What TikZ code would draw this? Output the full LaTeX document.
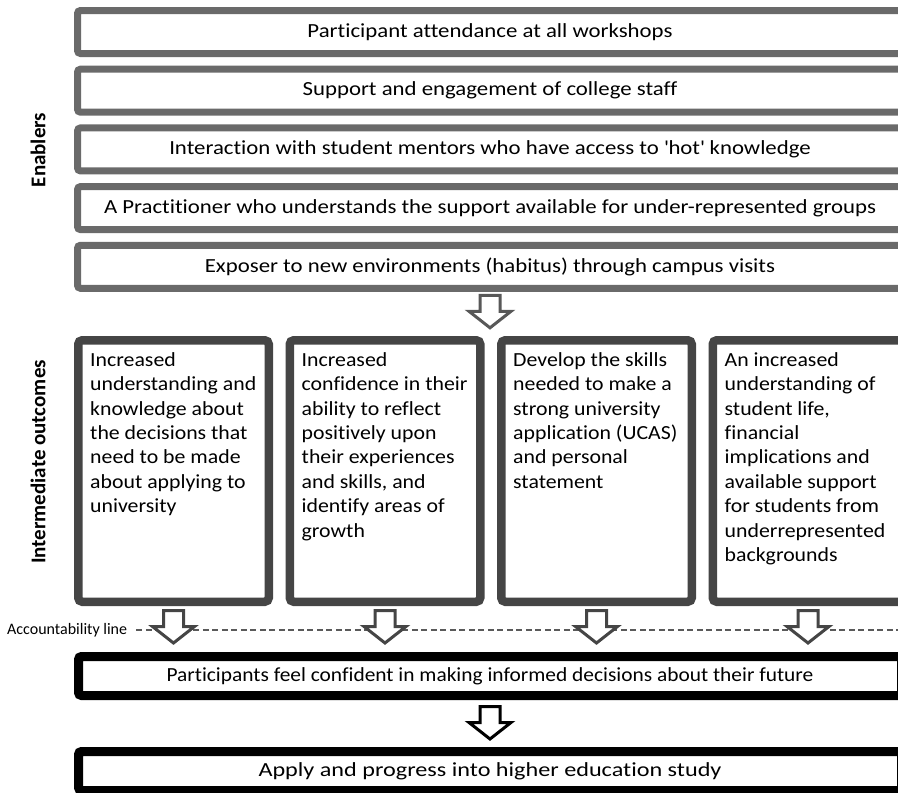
\documentclass[tikz,border=0pt]{standalone}
\usepackage{fontspec}
\setmainfont{Carlito}[Ligatures=NoCommon, FakeStretch=1.14]
\newfontfamily\plainfont{Carlito}[Ligatures=NoCommon]
\newfontfamily\boxfont{Carlito}[Ligatures=NoCommon, FakeStretch=1.09]
\newfontfamily\goalfont{Carlito}[Ligatures=NoCommon, FakeStretch=1.07]
\newfontfamily\applyfont{Carlito}[Ligatures=NoCommon, FakeStretch=1.21]
\usetikzlibrary{positioning,calc}

\definecolor{engrey}{HTML}{6A6A6A}
\definecolor{outgrey}{HTML}{454545}
\definecolor{argrey}{HTML}{585858}
\definecolor{dashgrey}{HTML}{5A5A5A}

\tikzset{
  enabler/.style={draw=engrey, line width=7pt, rounded corners=3pt,
    minimum width=825pt, minimum height=43pt, inner sep=0pt,
    font=\fontsize{20}{24.4}\selectfont},
  outcome/.style={draw=outgrey, line width=8.5pt, rounded corners=4pt,
    minimum width=190.5pt, minimum height=261.5pt, inner sep=0pt},
  outtext/.style={anchor=north west, inner sep=0pt, align=left,
    font=\boxfont\fontsize{20}{24.4}\selectfont},
  goal/.style={draw=black, line width=9pt, rounded corners=3pt,
    minimum width=823pt, minimum height=39pt, inner sep=0pt},
  side/.style={rotate=90, font=\plainfont\bfseries\fontsize{#1}{24}\selectfont},
  pics/downarrow/.style={code={
    \draw[line width=3pt, fill=white, draw=#1] (-10,1.5) -- (10,1.5) -- (10,17.5)
      -- (21,17.5) -- (0,34) -- (-21,17.5) -- (-10,17.5) -- cycle;}}
}

\begin{document}
\begin{tikzpicture}[x=1pt, y=-1pt]
\useasboundingbox (0,0) rectangle (898,793);
\clip (0,0) rectangle (898,793);

% enablers
\foreach \txt [count=\i] in {{Participant attendance at all workshops},
    {Support and engagement of college staff},
    {Interaction with student mentors who have access to \textquotesingle hot\textquotesingle\ knowledge},
    {A Practitioner who understands the support available for under-represented groups},
    {Exposer to new environments (habitus) through campus visits}}
  \node[enabler] (en\i) at (490,{32+58.7*(\i-1)}) {\txt};

\node[side=21] (enl) at (38,150) {Enablers};
\pic at ([yshift=-2pt]en5.south) {downarrow=argrey};

% intermediate outcomes
\foreach \txt [count=\i] in {{Increased\\understanding and\\knowledge about\\the decisions that\\need to be made\\about applying to\\university},
    {Increased\\confidence in their\\ability to reflect\\positively upon\\their experiences\\and skills, and\\identify areas of\\growth},
    {Develop the skills\\needed to make a\\strong university\\application (UCAS)\\and personal\\statement},
    {An increased\\understanding of\\student life,\\financial\\implications and\\available support\\for students from\\underrepresented\\backgrounds}}{
  \node[outcome] (o\i) at ({173.5+211.5*(\i-1)},471) {};
  \node[outtext] (t\i) at ([shift={(16,13)}]o\i.north west) {\strut\txt};
}

\node[side=21] (outl) at (38,462) {Intermediate outcomes};

% accountability line
\node[anchor=west, inner sep=0pt, font=\plainfont\fontsize{16}{18}\selectfont] (acc) at (7,630) {Accountability line};
\coordinate (accend) at (898,630);
\draw[dashgrey, line width=2pt, dash pattern=on 6pt off 3.5pt] ([xshift=9pt]acc.east) -- (accend);
\foreach \i in {1,...,4}
  \pic at ([yshift=-3pt]o\i.south) {downarrow=outgrey};

% goals
\node[goal, font=\goalfont\fontsize{20}{24}\selectfont] (goal1) at (490,676)
  {Participants feel confident in making informed decisions about their future};
\pic at ([yshift=-5pt]goal1.south) {downarrow=black};
\node[goal, font=\applyfont\fontsize{20}{24}\selectfont] (goal2) at (490,771)
  {Apply and progress into higher education study};
\end{tikzpicture}
\end{document}
